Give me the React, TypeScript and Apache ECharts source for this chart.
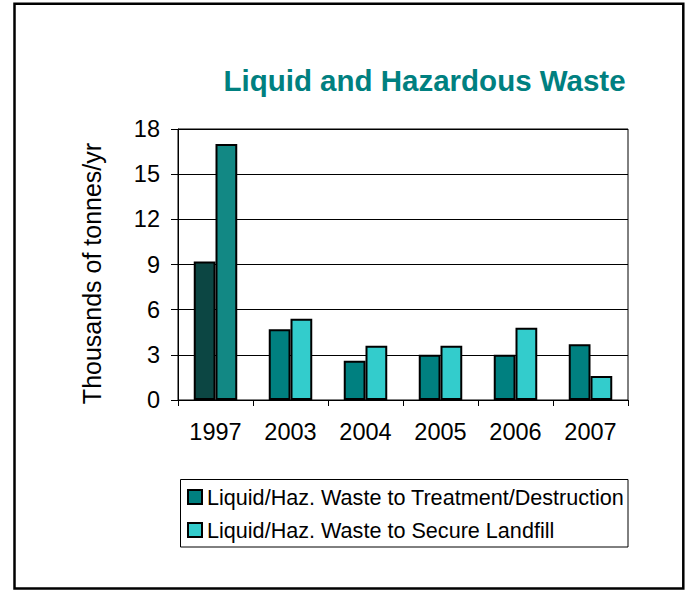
import React, { useEffect, useRef } from "react";
import * as echarts from "echarts";

const categories = ["1997", "2003", "2004", "2005", "2006", "2007"];
const treatment = [9.2, 4.7, 2.6, 3.0, 3.0, 3.7];
const landfill = [17.0, 5.4, 3.6, 3.6, 4.8, 1.6];
const seriesNames = [
  "Liquid/Haz. Waste to Treatment/Destruction",
  "Liquid/Haz. Waste to Secure Landfill",
];
const titleText = "Liquid and Hazardous Waste";
const yAxisTitle = "Thousands of tonnes/yr";

const FONT = "Arial, 'Liberation Sans', sans-serif";

export default function App() {
  const ref = useRef<HTMLDivElement>(null);
  useEffect(() => {
    if (!ref.current) return;
    const chart = echarts.init(ref.current, null, { renderer: "svg" });
    const darkData = treatment.map((v, i) =>
      i === 0 ? { value: v, itemStyle: { color: "#0c4643" } } : v
    );
    const lightData = landfill.map((v, i) =>
      i === 0 ? { value: v, itemStyle: { color: "#128884" } } : v
    );
    chart.setOption({
      animation: false,
      backgroundColor: "#ffffff",
      textStyle: { fontFamily: FONT },
      grid: {
        left: 178,
        right: 60,
        top: 129,
        bottom: 190,
        show: true,
        borderColor: "#000",
        borderWidth: 1,
      },
      xAxis: {
        type: "category",
        data: categories,
        boundaryGap: true,
        axisLine: { lineStyle: { color: "#000", width: 1 } },
        axisTick: { show: true, interval: 0, length: 6, lineStyle: { color: "#000" } },
        axisLabel: { color: "#000", fontSize: 23.5, fontFamily: FONT, margin: 20 },
      },
      yAxis: {
        type: "value",
        min: 0,
        max: 18,
        interval: 3,
        axisLine: { show: true, lineStyle: { color: "#000", width: 1 } },
        axisTick: { show: true, length: 7, lineStyle: { color: "#000" } },
        axisLabel: { color: "#000", fontSize: 23.5, fontFamily: FONT, margin: 18 },
        splitLine: { show: true, lineStyle: { color: "#000", width: 1 } },
      },
      legend: {
        orient: "vertical",
        left: 187,
        top: 486,
        padding: 0,
        itemWidth: 14,
        itemHeight: 14,
        itemGap: 11,
        icon: "rect",
        itemStyle: { borderColor: "#000", borderWidth: 2 },
        textStyle: { color: "#000", fontSize: 21.6, fontFamily: FONT, lineHeight: 22 },
        data: seriesNames,
      },
      graphic: [
        {
          type: "rect",
          z: -10,
          shape: { x: 14.5, y: 3.8, width: 668.8, height: 584.7 },
          style: { fill: "#fff", stroke: "#000", lineWidth: 2.5 },
        },
        {
          type: "rect",
          z: -5,
          shape: { x: 180.5, y: 479.5, width: 447.5, height: 67.5 },
          style: { fill: "#fff", stroke: "#000", lineWidth: 1 },
        },
        {
          type: "text",
          x: 424.5,
          y: 80,
          style: {
            text: titleText,
            fill: "#008080",
            font: `bold 29.5px ${FONT}`,
            textAlign: "center",
            textVerticalAlign: "middle",
          },
        },
        {
          type: "text",
          x: 92,
          y: 273.5,
          rotation: Math.PI / 2,
          style: {
            text: yAxisTitle,
            fill: "#000",
            font: `25px ${FONT}`,
            textAlign: "center",
            textVerticalAlign: "middle",
          },
        },
      ],
      series: [
        {
          name: seriesNames[0],
          type: "bar",
          data: darkData,
          barGap: "0%",
          barCategoryGap: "42%",
          itemStyle: { color: "#008080", borderColor: "#000", borderWidth: 2 },
        },
        {
          name: seriesNames[1],
          type: "bar",
          data: lightData,
          barGap: "0%",
          barCategoryGap: "42%",
          itemStyle: { color: "#33CCCC", borderColor: "#000", borderWidth: 2 },
        },
      ],
    });
    return () => chart.dispose();
  }, []);
  return (
    <div
      ref={ref}
      style={{ position: "absolute", left: 0, top: 0, width: 688, height: 590 }}
    />
  );
}
